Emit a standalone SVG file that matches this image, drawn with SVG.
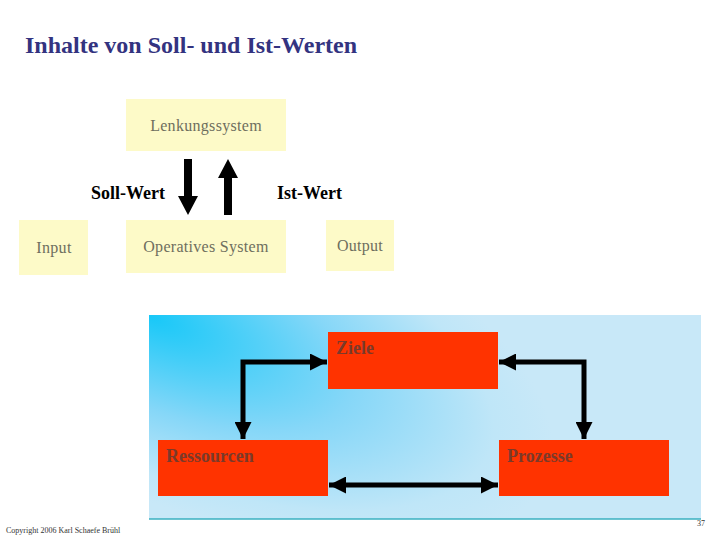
<svg xmlns="http://www.w3.org/2000/svg" width="720" height="540" viewBox="0 0 720 540">
<style>
.title{font-family:"Liberation Serif",serif;font-weight:bold;font-size:24px;fill:#333380}
.ybox{fill:#fdfac8}
.ylab{font-family:"Liberation Serif",serif;font-size:16px;letter-spacing:0.3px;fill:#6e6e5e;text-anchor:middle}
.wlab{font-family:"Liberation Serif",serif;font-weight:bold;font-size:18px;fill:#000}
.rbox{fill:#ff3300}
.rlab{font-family:"Liberation Serif",serif;font-weight:bold;font-size:18px;fill:#7a3a2a}
.conn{stroke:#000;stroke-width:5;fill:none}
.small{font-family:"Liberation Serif",serif;font-size:8px;fill:#333}
</style>
<defs>
<radialGradient id="bg" gradientUnits="userSpaceOnUse" cx="0" cy="0" r="1" gradientTransform="translate(150,316) rotate(22) scale(430,175)">
<stop offset="0" stop-color="#18c8f8"/>
<stop offset="0.5" stop-color="#86d7f8"/>
<stop offset="0.85" stop-color="#bfe6f8"/>
<stop offset="1" stop-color="#c8e8f8"/>
</radialGradient>
<marker id="ah" viewBox="0 0 10 10" refX="10" refY="5" markerWidth="3.4" markerHeight="3.4" orient="auto-start-reverse">
<path d="M0,0 L10,5 L0,10 z" fill="#000"/>
</marker>
</defs>
<rect width="720" height="540" fill="#fff"/>
<text class="title" x="25" y="53">Inhalte von Soll- und Ist-Werten</text>

<g id="lenkungssystem">
<rect class="ybox" x="126" y="99" width="160" height="52"/>
<text class="ylab" x="206" y="131">Lenkungssystem</text>
</g>
<g id="input">
<rect class="ybox" x="19" y="220" width="69" height="55"/>
<text class="ylab" x="54" y="253">Input</text>
</g>
<g id="operatives">
<rect class="ybox" x="126" y="220" width="160" height="53"/>
<text class="ylab" x="206" y="252">Operatives System</text>
</g>
<g id="output">
<rect class="ybox" x="326" y="220" width="68" height="51"/>
<text class="ylab" x="360" y="251">Output</text>
</g>
<g id="labels">
<text class="wlab" x="91" y="199">Soll-Wert</text>
<text class="wlab" x="277" y="199">Ist-Wert</text>
</g>
<g id="arrows-top">
<path d="M184,159 H192 V196 H198 L188,215 L178,196 H184 Z" fill="#000"/>
<path d="M224,215 H232 V178 H238 L228,159 L218,178 H224 Z" fill="#000"/>
</g>

<g id="panel">
<rect x="149" y="315" width="552" height="204" fill="url(#bg)"/>
<line x1="149" y1="519" x2="701" y2="519" stroke="#3ab0c0" stroke-width="1.5"/>
</g>
<g id="ziele">
<rect class="rbox" x="328" y="332" width="170" height="57"/>
<text class="rlab" x="336" y="354">Ziele</text>
</g>
<g id="ressourcen">
<rect class="rbox" x="158" y="440" width="170" height="56"/>
<text class="rlab" x="166" y="462">Ressourcen</text>
</g>
<g id="prozesse">
<rect class="rbox" x="499" y="440" width="170" height="56"/>
<text class="rlab" x="507" y="462">Prozesse</text>
</g>
<g id="connectors">
<path class="conn" d="M327,362 H243 V439" marker-start="url(#ah)" marker-end="url(#ah)"/>
<path class="conn" d="M499,362 H584 V439" marker-start="url(#ah)" marker-end="url(#ah)"/>
<path class="conn" d="M329,485 H498" marker-start="url(#ah)" marker-end="url(#ah)"/>
</g>

<text class="small" x="6" y="533">Copyright 2006 Karl Schaefe Brühl</text>
<text class="small" x="697" y="526">37</text>
</svg>
